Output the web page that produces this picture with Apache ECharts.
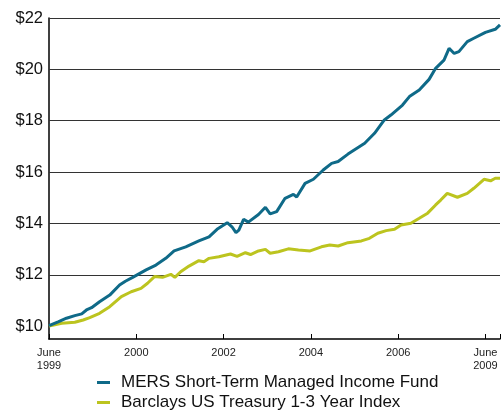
<!DOCTYPE html>
<html>
<head>
<meta charset="utf-8">
<script src="https://cdn.jsdelivr.net/npm/echarts@6/dist/echarts.min.js"></script>
<style>html,body{margin:0;padding:0;background:#fff;}#c{width:503px;height:411px;}</style>
</head>
<body>
<div id="c"></div>
<script>
// months since June 1999
var xTickLabels = {0: 'June\n1999', 24: '2000', 48: '2002', 72: '2004', 96: '2006', 120: 'June\n2009'};
var gridValues = [12, 14, 16, 18, 20, 22];
var seriesNames = ['MERS Short-Term Managed Income Fund', 'Barclays US Treasury 1-3 Year Index'];

var mersMonths = [0,2.5,4.8,7.1,9,10.3,11.7,13.9,16.7,19.4,21,23,26.7,29.4,32.1,34.4,37.6,41.2,44,46.2,49,50.3,51.4,52.2,53.5,54.8,57.6,59.5,60.8,62.6,64.9,67.2,68.1,70.4,72.7,75.4,77.7,79.5,82.2,86.8,89.5,92.2,94,97.2,99.1,101.8,104.5,106.3,108.6,110,111.4,112.7,115,116.8,120,122.7,124];
var mersValues = [10.02,10.17,10.31,10.41,10.48,10.63,10.72,10.95,11.21,11.60,11.75,11.90,12.19,12.38,12.64,12.93,13.09,13.32,13.48,13.77,14.03,13.87,13.64,13.74,14.16,14.05,14.35,14.63,14.37,14.46,14.98,15.13,15.03,15.56,15.72,16.08,16.34,16.41,16.70,17.12,17.51,18.03,18.22,18.61,18.94,19.20,19.61,20.04,20.36,20.82,20.62,20.69,21.08,21.21,21.44,21.56,21.73];

var barcMonths = [0,3.5,7.1,9.4,11.2,13.9,16.7,19.9,22.6,25.3,27.1,29,31.2,33.5,34.6,36.2,38.5,41.2,42.6,44,46.7,49.9,51.7,54,55.4,57.6,59.5,60.8,63.1,65.8,68.6,71.8,74.9,77.2,79.5,82.2,85.9,88.1,90.4,92.7,95,96.8,99.5,101.8,104.1,106.3,107.7,109.5,112.3,115,116.8,119.6,121.4,122.7,124];
var barcValues = [10.0,10.11,10.15,10.24,10.33,10.50,10.76,11.15,11.34,11.47,11.67,11.93,11.90,12.02,11.90,12.12,12.34,12.55,12.51,12.64,12.70,12.81,12.72,12.86,12.79,12.93,12.99,12.84,12.90,13.01,12.97,12.93,13.09,13.16,13.12,13.25,13.32,13.42,13.62,13.72,13.77,13.94,14.01,14.20,14.40,14.72,14.91,15.17,15.02,15.17,15.37,15.72,15.66,15.76,15.76];

function pairs(xs, ys) { return xs.map(function (x, i) { return [x, ys[i]]; }); }

var legendBase = {
  orient: 'vertical', left: 92,
  icon: 'rect', itemWidth: 13, itemHeight: 3,
  textStyle: {fontSize: 17, color: '#111', fontFamily: 'Liberation Sans', padding: [0, 0, 0, 6]}
};

var chart = echarts.init(document.getElementById('c'));
chart.setOption({
  animation: false,
  grid: {left: 49, right: 0, top: 18, bottom: 72, containLabel: false},
  xAxis: {
    type: 'value', min: 0, max: 124, interval: 24,
    axisLine: {show: true, lineStyle: {color: '#000', width: 1.5}},
    axisTick: {show: true, inside: true, length: 5, lineStyle: {color: '#000'}},
    splitLine: {show: false},
    axisLabel: {
      color: '#222', fontSize: 11, fontFamily: 'Liberation Sans', lineHeight: 13, margin: 7,
      formatter: function (v) { return xTickLabels[v] !== undefined ? xTickLabels[v] : ''; }
    }
  },
  yAxis: {
    type: 'value', min: 9.5, max: 22, interval: 0.5,
    axisLine: {show: true, lineStyle: {color: '#000', width: 1.5}},
    axisTick: {show: false},
    splitLine: {show: false},
    axisLabel: {
      color: '#111', fontSize: 16.5, fontFamily: 'Liberation Sans', margin: 6,
      formatter: function (v) { return (Math.abs(v % 2) < 1e-9 && v >= 10) ? '$' + v : ''; }
    }
  },
  legend: [
    Object.assign({}, legendBase, {top: 369, data: [seriesNames[0]]}),
    Object.assign({}, legendBase, {top: 389, data: [seriesNames[1]]})
  ],
  series: [
    {
      name: seriesNames[1], type: 'line', data: pairs(barcMonths, barcValues),
      showSymbol: false, smooth: false,
      lineStyle: {color: '#bcc41f', width: 3}, itemStyle: {color: '#bcc41f'},
      z: 3,
      markLine: {
        silent: true, symbol: 'none', label: {show: false},
        lineStyle: {color: '#333', width: 1.2, type: 'solid'},
        data: gridValues.map(function (v) { return {yAxis: v}; }),
        z: 1
      }
    },
    {
      name: seriesNames[0], type: 'line', data: pairs(mersMonths, mersValues),
      showSymbol: false, smooth: false,
      lineStyle: {color: '#0f6a88', width: 3}, itemStyle: {color: '#0f6a88'},
      z: 4
    }
  ]
});
</script>
</body>
</html>
